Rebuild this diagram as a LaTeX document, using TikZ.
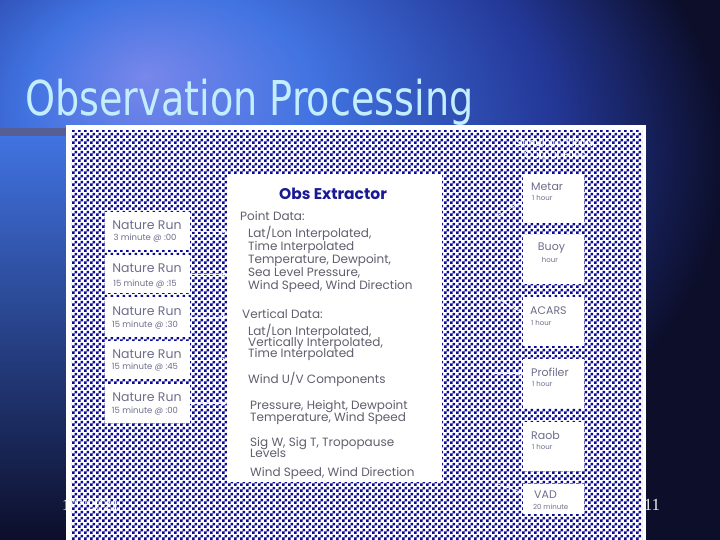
\documentclass[tikz,border=0pt]{standalone}
\usepackage{fontspec}
\setmainfont{Poppins}
\newfontfamily\titlefont{DejaVu Sans}
\newfontfamily\footfont{Liberation Serif}
\usetikzlibrary{patterns,arrows.meta}
\definecolor{navy}{RGB}{12,14,42}
\definecolor{glowA}{RGB}{120,135,235}
\definecolor{glowB}{RGB}{65,115,225}
\definecolor{glowC}{RGB}{35,55,150}
\definecolor{stripmid}{RGB}{45,75,195}
\definecolor{chkblue}{RGB}{10,10,150}
\definecolor{titlecyan}{RGB}{195,238,255}
\definecolor{bartone}{RGB}{85,95,150}
\definecolor{bodytext}{RGB}{95,95,110}
\definecolor{boxtext}{RGB}{110,110,140}
\definecolor{headblue}{RGB}{25,25,150}
\pgfdeclareradialshading{bgglow}{\pgfpoint{-15bp}{18bp}}{color(0bp)=(glowA); color(10bp)=(glowB); color(24bp)=(glowC); color(34bp)=(navy); color(80bp)=(navy)}
\pgfdeclarepatternformonly{chk}{\pgfpointorigin}{\pgfqpoint{6pt}{6pt}}{\pgfqpoint{6pt}{6pt}}{%
  \pgfpathrectangle{\pgfpointorigin}{\pgfqpoint{3pt}{3pt}}%
  \pgfpathrectangle{\pgfqpoint{3pt}{3pt}}{\pgfqpoint{3pt}{3pt}}%
  \pgfusepath{fill}}
\tikzset{
  nrbox/.style={fill=white, draw=none, minimum width=85, inner sep=0},
  outbox/.style={fill=white, draw=none, minimum width=61, inner sep=0},
  nrtitle/.style={text=boxtext, font=\fontsize{12.5}{13}\selectfont, inner sep=0},
  nrsub/.style={text=boxtext, font=\fontsize{8.5}{9}\selectfont, inner sep=0},
  outtitle/.style={text=boxtext, font=\fontsize{11}{12}\selectfont, inner sep=0, anchor=west},
  outsub/.style={text=boxtext, font=\fontsize{7}{8}\selectfont, inner sep=0, anchor=west},
  body/.style={text=bodytext, font=\fontsize{12}{12}\selectfont, inner sep=0, anchor=base west},
  flow/.style={draw=white, line width=0.8, opacity=0.85, -{Stealth[length=5,width=5]}}
}
\begin{document}
\begin{tikzpicture}[x=1pt,y=-1pt]
\useasboundingbox (0,0) rectangle (720,540);
% slide background
\shade[shading=bgglow] (0,0) rectangle (720,540);
\shade[top color=glowB, middle color=stripmid, bottom color=navy] (0,136) rectangle (66,540);
\fill[bartone] (0,128) rectangle (66,136);
% title
\node[anchor=base west, inner sep=0, text=titlecyan, font=\titlefont\fontsize{48}{48}\selectfont] (title) at (25,116) {\scalebox{0.795}[1]{Observation Processing}};
% panel
\fill[white] (66,125) rectangle (646,545);
\fill[pattern=chk, pattern color=chkblue] (71,131) rectangle (642,540);
% extractor
\node[fill=white, minimum width=215, minimum height=308, inner sep=0] (ext) at (334.5,328) {};
\node[text=headblue, font=\bfseries\fontsize{15.5}{16}\selectfont, inner sep=0] (exttitle) at (333,194) {Obs Extractor};
\node[body] (p0) at (240,221) {Point Data:};
\node[body] (p1) at (248,237) {Lat/Lon Interpolated,};
\node[body] (p2) at (248,250) {Time Interpolated};
\node[body] (p3) at (248,263) {Temperature, Dewpoint,};
\node[body] (p4) at (248,276) {Sea Level Pressure,};
\node[body] (p5) at (248,289) {Wind Speed, Wind Direction};
\node[body] (v0) at (242,318.5) {Vertical Data:};
\node[body] (v1) at (248,335) {Lat/Lon Interpolated,};
\node[body] (v2) at (248,346) {Vertically Interpolated,};
\node[body] (v3) at (248,357.5) {Time Interpolated};
\node[body] (v4) at (248,383.5) {Wind U/V Components};
\node[body] (v5) at (250,409.5) {Pressure, Height, Dewpoint};
\node[body] (v6) at (250,421) {Temperature, Wind Speed};
\node[body] (v7) at (250,446) {Sig W, Sig T, Tropopause};
\node[body] (v8) at (250,457.5) {Levels};
\node[body] (v9) at (250,476) {Wind Speed, Wind Direction};
% nature run boxes
\node[nrbox, minimum height=38] (nr1) at (147.5,231) {};
\node[nrbox, minimum height=38] (nr2) at (147.5,274) {};
\node[nrbox, minimum height=40] (nr3) at (147.5,317) {};
\node[nrbox, minimum height=38] (nr4) at (147.5,360) {};
\node[nrbox, minimum height=39] (nr5) at (147.5,403.5) {};
\node[nrtitle] (nr1t) at (147,225) {Nature Run};
\node[nrsub] (nr1s) at (145,238) {3 minute @ :00};
\node[nrtitle] (nr2t) at (147,268) {Nature Run};
\node[nrsub] (nr2s) at (145,284) {15 minute @ :15};
\node[nrtitle] (nr3t) at (147,311) {Nature Run};
\node[nrsub] (nr3s) at (145,325) {15 minute @ :30};
\node[nrtitle] (nr4t) at (147,354) {Nature Run};
\node[nrsub] (nr4s) at (145,367) {15 minute @ :45};
\node[nrtitle] (nr5t) at (147,397) {Nature Run};
\node[nrsub] (nr5s) at (145,411) {15 minute @ :00};
\foreach \n in {nr1,nr2,nr3,nr4,nr5}{
  \draw[flow] (\n.east) -- (\n.east -| ext.west);
}
% output header
\node[text=white, font=\fontsize{10.5}{11.5}\selectfont, align=center, inner sep=0] (outhead) at (555,150) {Simulated Raw\\Output Files};
% output boxes
\node[outbox, minimum height=49] (metar) at (553.5,198.5) {};
\node[outbox, minimum height=49] (buoy) at (553.5,259.5) {};
\node[outbox, minimum height=49] (acars) at (553.5,321.5) {};
\node[outbox, minimum height=49] (prof) at (553.5,383.5) {};
\node[outbox, minimum height=49] (raob) at (553.5,446.5) {};
\node[outbox, minimum height=30] (vad) at (553.5,499) {};
\node[outtitle] at (531,186.5) {Metar};
\node[outsub] at (532,197.5) {1 hour};
\node[outtitle, anchor=center] at (551.5,248) {Buoy};
\node[outsub, anchor=center] at (550,260) {hour};
\node[outtitle] at (530,311) {ACARS};
\node[outsub] at (531,322.5) {1 hour};
\node[outtitle] at (531,372) {Profiler};
\node[outsub] at (532,383.5) {1 hour};
\node[outtitle] at (531,435) {Raob};
\node[outsub] at (532,446.5) {1 hour};
\node[outtitle] at (534,495) {VAD};
\node[outsub] at (533,506.5) {20 minute};
% arrows to outputs
\coordinate (s1) at (497,216);
\coordinate (s2) at (494,258);
\coordinate (s3) at (498,299);
\coordinate (s4) at (494,373);
\coordinate (s5) at (494,438);
\coordinate (s6) at (498,484);
\draw[flow] (s1) -- (metar.west |- 0,201);
\draw[flow] (s2) -- (buoy.west |- s2);
\draw[flow] (s3) -- (acars.west |- 0,313);
\draw[flow] (s4) -- (prof.west |- s4);
\draw[flow] (s5) -- (raob.west |- s5);
\draw[flow] (s6) -- (vad.west |- 0,493);
% footer
\node[text=white, font=\footfont\fontsize{16}{16}\selectfont, anchor=base west, inner sep=0] (date) at (62,510) {1/7/2021};
\node[text=white!85!gray, font=\footfont\fontsize{17}{17}\selectfont, anchor=base, inner sep=0] (pagenum) at (652,510) {11};
\end{tikzpicture}
\end{document}
